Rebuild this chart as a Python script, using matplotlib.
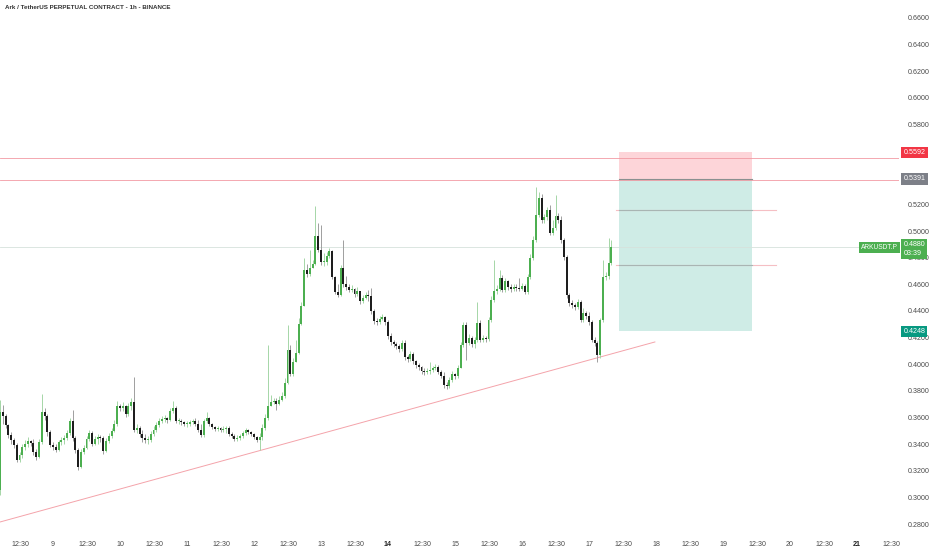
"""ARKUSDT.P 1h chart with a short-position box, drawn like a TradingView screenshot."""
import matplotlib.pyplot as plt
import numpy as np

plt.rcParams["font.family"] = ["Liberation Sans", "DejaVu Sans"]

# --------------------------------------------------------------------------- #
# data (prices, time in hours since the 8th 00:00)
# --------------------------------------------------------------------------- #
first_hour = 5
first_open = 0.3055

closes = [
    0.3641, 0.3611, 0.3543, 0.3468, 0.3431, 0.3393, 0.3280, 0.3318, 0.3378, 0.3401,
    0.3423, 0.3408, 0.3340, 0.3303, 0.3416, 0.3641, 0.3611, 0.3491, 0.3393, 0.3378,
    0.3355, 0.3416, 0.3431, 0.3446, 0.3483, 0.3573, 0.3446, 0.3355, 0.3228, 0.3340,
    0.3371, 0.3438, 0.3483, 0.3401, 0.3438, 0.3453, 0.3446, 0.3348, 0.3423, 0.3461,
    0.3498, 0.3551, 0.3686, 0.3671, 0.3686, 0.3626, 0.3686, 0.3716, 0.3506, 0.3521,
    0.3476, 0.3446, 0.3431, 0.3431, 0.3476, 0.3506, 0.3543, 0.3573, 0.3588, 0.3596,
    0.3581, 0.3648, 0.3671, 0.3573, 0.3573, 0.3566, 0.3551, 0.3551, 0.3566, 0.3573,
    0.3551, 0.3506, 0.3468, 0.3573, 0.3596, 0.3551, 0.3528, 0.3513, 0.3521, 0.3506,
    0.3513, 0.3521, 0.3476, 0.3461, 0.3438, 0.3446, 0.3461, 0.3483, 0.3506, 0.3491,
    0.3476, 0.3453, 0.3431, 0.3453, 0.3521, 0.3596, 0.3686, 0.3716, 0.3723, 0.3701,
    0.3731, 0.3761, 0.3859, 0.4106, 0.3926, 0.4016, 0.4084, 0.4302, 0.4437, 0.4707,
    0.4677, 0.4722, 0.4752, 0.4963, 0.4857, 0.4767, 0.4767, 0.4812, 0.4850, 0.4655,
    0.4542, 0.4520, 0.4722, 0.4602, 0.4580, 0.4557, 0.4565, 0.4527, 0.4550, 0.4474,
    0.4497, 0.4520, 0.4512, 0.4399, 0.4324, 0.4317, 0.4339, 0.4354, 0.4317, 0.4212,
    0.4167, 0.4152, 0.4137, 0.4114, 0.4159, 0.4054, 0.4039, 0.4076, 0.4024, 0.3994,
    0.3979, 0.3949, 0.3941, 0.3949, 0.3956, 0.3971, 0.3979, 0.3941, 0.3911, 0.3844,
    0.3836, 0.3881, 0.3926, 0.3911, 0.3971, 0.4144, 0.4294, 0.4159, 0.4197, 0.4152,
    0.4182, 0.4309, 0.4182, 0.4197, 0.4189, 0.4332, 0.4482, 0.4550, 0.4565, 0.4647,
    0.4557, 0.4625, 0.4580, 0.4565, 0.4580, 0.4572, 0.4565, 0.4587, 0.4542, 0.4655,
    0.4797, 0.4933, 0.5120, 0.5248, 0.5083, 0.5105, 0.5158, 0.4985, 0.5023, 0.5113,
    0.5083, 0.4933, 0.4805, 0.4520, 0.4459, 0.4444, 0.4429, 0.4467, 0.4332, 0.4384,
    0.4362, 0.4317, 0.4182, 0.4159, 0.4069, 0.4332, 0.4655, 0.4662, 0.4760, 0.4880,
]
highs = [
    0.3731, 0.3693, 0.3626, 0.3551, 0.3491, 0.3446, 0.3408, 0.3340, 0.3401, 0.3431,
    0.3453, 0.3431, 0.3438, 0.3363, 0.3438, 0.3776, 0.3671, 0.3626, 0.3506, 0.3416,
    0.3401, 0.3431, 0.3453, 0.3468, 0.3506, 0.3596, 0.3656, 0.3461, 0.3371, 0.3363,
    0.3393, 0.3461, 0.3506, 0.3498, 0.3461, 0.3476, 0.3468, 0.3461, 0.3446, 0.3483,
    0.3521, 0.3581, 0.3723, 0.3701, 0.3716, 0.3693, 0.3708, 0.3746, 0.3904, 0.3551,
    0.3536, 0.3506, 0.3476, 0.3461, 0.3498, 0.3536, 0.3566, 0.3596, 0.3611, 0.3618,
    0.3603, 0.3671, 0.3723, 0.3686, 0.3596, 0.3588, 0.3573, 0.3573, 0.3581, 0.3588,
    0.3596, 0.3581, 0.3551, 0.3588, 0.3641, 0.3603, 0.3558, 0.3536, 0.3536, 0.3528,
    0.3536, 0.3536, 0.3536, 0.3491, 0.3476, 0.3468, 0.3476, 0.3498, 0.3521, 0.3513,
    0.3498, 0.3483, 0.3461, 0.3483, 0.3551, 0.3626, 0.4144, 0.3769, 0.3746, 0.3746,
    0.3761, 0.3791, 0.3896, 0.4294, 0.4144, 0.4046, 0.4182, 0.4347, 0.4467, 0.4797,
    0.4752, 0.4857, 0.4782, 0.5188, 0.5060, 0.5045, 0.4835, 0.4842, 0.4873, 0.4857,
    0.4662, 0.4602, 0.4745, 0.4933, 0.4662, 0.4602, 0.4595, 0.4572, 0.4580, 0.4542,
    0.4520, 0.4542, 0.4557, 0.4572, 0.4414, 0.4347, 0.4362, 0.4377, 0.4362, 0.4332,
    0.4234, 0.4182, 0.4167, 0.4152, 0.4182, 0.4182, 0.4069, 0.4099, 0.4091, 0.4031,
    0.4009, 0.3986, 0.3971, 0.3971, 0.4016, 0.3986, 0.4001, 0.3994, 0.3956, 0.3941,
    0.3866, 0.3904, 0.3949, 0.3934, 0.3994, 0.4167, 0.4317, 0.4317, 0.4227, 0.4212,
    0.4204, 0.4467, 0.4332, 0.4219, 0.4212, 0.4354, 0.4512, 0.4782, 0.4595, 0.4707,
    0.4670, 0.4647, 0.4632, 0.4602, 0.4602, 0.4602, 0.4647, 0.4610, 0.4602, 0.4677,
    0.4827, 0.4963, 0.5331, 0.5293, 0.5278, 0.5128, 0.5180, 0.5195, 0.5083, 0.5271,
    0.5135, 0.5113, 0.4948, 0.4820, 0.4535, 0.4482, 0.4459, 0.4490, 0.4482, 0.4422,
    0.4399, 0.4392, 0.4332, 0.4204, 0.4174, 0.4347, 0.4782, 0.4692, 0.4948, 0.4933,
]
lows = [
    0.3018, 0.3551, 0.3521, 0.3446, 0.3401, 0.3371, 0.3265, 0.3265, 0.3295, 0.3355,
    0.3378, 0.3386, 0.3318, 0.3280, 0.3295, 0.3401, 0.3581, 0.3461, 0.3378, 0.3355,
    0.3340, 0.3348, 0.3393, 0.3401, 0.3431, 0.3468, 0.3423, 0.3333, 0.3205, 0.3220,
    0.3325, 0.3363, 0.3423, 0.3386, 0.3393, 0.3401, 0.3416, 0.3325, 0.3340, 0.3408,
    0.3446, 0.3491, 0.3536, 0.3648, 0.3648, 0.3603, 0.3611, 0.3656, 0.3491, 0.3483,
    0.3453, 0.3416, 0.3408, 0.3401, 0.3416, 0.3461, 0.3491, 0.3528, 0.3558, 0.3566,
    0.3558, 0.3573, 0.3633, 0.3558, 0.3551, 0.3543, 0.3536, 0.3528, 0.3536, 0.3551,
    0.3536, 0.3491, 0.3453, 0.3453, 0.3558, 0.3536, 0.3513, 0.3498, 0.3498, 0.3491,
    0.3491, 0.3483, 0.3461, 0.3446, 0.3423, 0.3423, 0.3431, 0.3446, 0.3468, 0.3476,
    0.3461, 0.3438, 0.3416, 0.3355, 0.3431, 0.3506, 0.3581, 0.3686, 0.3701, 0.3656,
    0.3693, 0.3723, 0.3746, 0.3851, 0.3911, 0.3911, 0.4016, 0.4076, 0.4294, 0.4437,
    0.4655, 0.4662, 0.4722, 0.4745, 0.4842, 0.4745, 0.4737, 0.4745, 0.4797, 0.4640,
    0.4527, 0.4505, 0.4512, 0.4580, 0.4557, 0.4542, 0.4542, 0.4505, 0.4512, 0.4452,
    0.4459, 0.4490, 0.4474, 0.4377, 0.4302, 0.4294, 0.4302, 0.4332, 0.4294, 0.4189,
    0.4144, 0.4129, 0.4114, 0.4091, 0.4099, 0.4031, 0.4016, 0.4024, 0.4001, 0.3971,
    0.3956, 0.3926, 0.3919, 0.3926, 0.3926, 0.3941, 0.3956, 0.3926, 0.3896, 0.3821,
    0.3814, 0.3821, 0.3866, 0.3889, 0.3896, 0.3971, 0.4129, 0.4031, 0.4144, 0.4129,
    0.4122, 0.4167, 0.4167, 0.4167, 0.4167, 0.4174, 0.4317, 0.4467, 0.4527, 0.4550,
    0.4542, 0.4542, 0.4557, 0.4542, 0.4550, 0.4550, 0.4550, 0.4557, 0.4527, 0.4527,
    0.4640, 0.4782, 0.4918, 0.5105, 0.5060, 0.5060, 0.5083, 0.4970, 0.4970, 0.5008,
    0.5060, 0.4910, 0.4782, 0.4497, 0.4437, 0.4422, 0.4407, 0.4414, 0.4317, 0.4317,
    0.4339, 0.4294, 0.4167, 0.4137, 0.4016, 0.4046, 0.4317, 0.4632, 0.4640, 0.4745,
]

# short position tool and drawings
pos_start, pos_end = 226.7, 274.4
entry, stop, target = 0.5391, 0.5592, 0.4248
hlines_full = [0.5548, 0.5386]
seg_start, seg_end = 225.7, 283.0
seg_levels = [0.5158, 0.4745]
trend_x = [5.0, 239.6]
trend_y = [0.2815, 0.4167]
last_price = 0.4880
countdown = "03:39"

# scale labels that sit under the coloured price tags are hidden
price_ticks = [0.28, 0.30, 0.32, 0.34, 0.36, 0.38, 0.40, 0.42, 0.44, 0.46,
               0.48, 0.50, 0.52, 0.58, 0.60, 0.62, 0.64, 0.66]
days = list(range(9, 22))
bold_days = [14, 21]

UP, UP_WICK = "#4caf50", "#a5d6a7"
DOWN, DOWN_WICK = "#1e1e1e", "#9e9e9e"
TXT = "#4a4a4a"
FS = 5.1

# --------------------------------------------------------------------------- #
# figure
# --------------------------------------------------------------------------- #
fig = plt.figure(figsize=(9.32, 5.5), dpi=100)
fig.patch.set_facecolor("white")
ax = fig.add_axes([0, 20 / 550, 899 / 932, 530 / 550])
ax.set_xlim(5.015, 327.04)
ax.set_ylim(0.2755, 0.6735)
for s in ax.spines.values():
    s.set_visible(False)

c = np.array(closes)
h = np.array(highs)
l = np.array(lows)
o = np.concatenate([[first_open], c[:-1]])
t = first_hour + np.arange(len(c))
up = c >= o

# wicks then bodies
ax.vlines(t[up], l[up], h[up], color=UP_WICK, lw=0.7, zorder=2)
ax.vlines(t[~up], l[~up], h[~up], color=DOWN_WICK, lw=0.7, zorder=2)
body = np.maximum(np.abs(c - o), 0.0007)
bottom = np.minimum(o, c)
ax.bar(t[up], body[up], bottom=bottom[up], width=0.7, color=UP, lw=0, zorder=3)
ax.bar(t[~up], body[~up], bottom=bottom[~up], width=0.7, color=DOWN, lw=0, zorder=3)

# position box
ax.fill_between([pos_start, pos_end], entry, stop, color="#fdd5d9", lw=0, zorder=1)
ax.fill_between([pos_start, pos_end], target, entry, color="#cfece6", lw=0, zorder=1)
ax.plot([pos_start, pos_end], [entry, entry], color="#8a9090", lw=0.8, zorder=1.6)

# horizontal lines & segments
for lv in hlines_full:
    ax.axhline(lv, color="#f29aa3", lw=0.6, zorder=1.5)
for lv in seg_levels:
    ax.plot([seg_start, seg_end], [lv, lv], color="#f5bfc4", lw=0.8, zorder=1.5)
    ax.plot([pos_start, pos_end], [lv, lv], color="#a9b5b3", lw=0.8, zorder=1.6)
ax.axhline(last_price, color="#d6e2dc", lw=0.6, zorder=1.4)

# trend line
ax.plot(trend_x, trend_y, color="#f4a3aa", lw=0.7, zorder=1.5)

# --------------------------------------------------------------------------- #
# axes text
# --------------------------------------------------------------------------- #
ax.yaxis.tick_right()
ax.set_yticks(price_ticks)
ax.set_yticklabels([f"{p:.4f}" for p in price_ticks])
ax.tick_params(axis="y", length=0, pad=6, labelsize=FS, labelcolor=TXT)

xt, xl = [12.5], ["12:30"]
for d in days:
    xt += [(d - 8) * 24, (d - 8) * 24 + 12.5]
    xl += [str(d), "12:30"]
ax.set_xticks(xt)
ax.set_xticklabels(xl)
ax.tick_params(axis="x", length=0, pad=8, labelsize=FS, labelcolor=TXT)
for lab in ax.get_xticklabels():
    if lab.get_text() in [str(d) for d in bold_days]:
        lab.set_fontweight("bold")
        lab.set_color("#222222")

ax.text(0.006, 0.985, "Ark / TetherUS PERPETUAL CONTRACT - 1h - BINANCE",
        transform=ax.transAxes, ha="left", va="center", fontsize=4.5,
        color="#333333", fontweight="bold")

# coloured price labels on the scale
ytr = ax.get_yaxis_transform()
box = dict(boxstyle="square,pad=0.3", lw=0)
for val, col in [(stop, "#f23645"), (entry, "#7d8088"), (target, "#089981")]:
    ax.text(1.005, val, f"{val:.4f}", transform=ytr, ha="left", va="center",
            fontsize=FS, color="white", zorder=6, clip_on=False,
            bbox={**box, "fc": col})
ax.text(1.005, last_price + 0.0043, f"{last_price:.4f}\n{countdown}",
        transform=ytr, ha="left", va="top", fontsize=FS, color="white",
        zorder=6, clip_on=False, linespacing=1.25, bbox={**box, "fc": UP})
ax.text(0.9985, last_price, "ARKUSDT.P", transform=ytr, ha="right", va="center",
        fontsize=4.8, color="white", zorder=6, clip_on=False,
        bbox={**box, "fc": UP})

fig.savefig("out.png", dpi=100, facecolor="white")
